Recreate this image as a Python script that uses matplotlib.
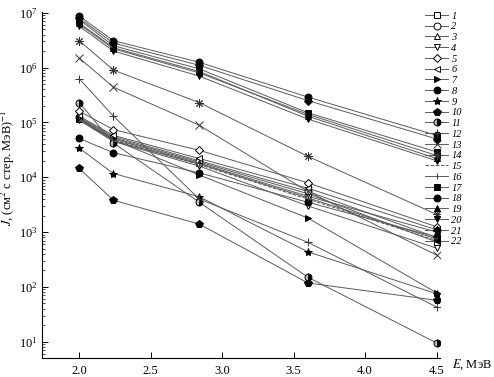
import matplotlib
matplotlib.use("Agg")
import matplotlib.pyplot as plt
from matplotlib.ticker import LogFormatterMathtext, NullFormatter, FixedLocator

plt.rcParams['font.family'] = ['Liberation Serif', 'DejaVu Serif']
plt.rcParams['mathtext.fontset'] = 'stix'

energy = [2.0, 2.24, 2.84, 3.6, 4.5]

j01 = [1.2e5, 5.2e4, 1.9e4, 5.0e3, 660]
j02 = [1.25e5, 5.5e4, 2.0e4, 5.5e3, 800]
j03 = [1.15e5, 5.0e4, 1.8e4, 4.5e3, 1.0e3]
j04 = [1.1e5, 4.5e4, 1.6e4, 3.0e3, 510]
j05 = [1.6e5, 7.4e4, 3.1e4, 7.9e3, 1.25e3]
j06 = [1.3e5, 5.8e4, 2.2e4, 6.3e3, 1.1e3]
j07 = [1.2e5, 4.8e4, 1.1e4, 1.8e3, 78]
j08 = [5.1e4, 2.8e4, 1.2e4, 3.5e3, 810]
j09 = [3.4e4, 1.17e4, 4.4e3, 436, 75]
j10 = [1.45e4, 3.8e3, 1.4e3, 118, 57]
j11 = [2.3e5, 4.2e4, 3.5e3, 150, 9.5]
j12 = [6.3e5, 1.3e5, 4.0e3, 650, 43]
j13 = [1.5e6, 4.4e5, 8.9e4, 5.5e3, 380]
j14 = [3.1e6, 9.0e5, 2.3e5, 2.4e4, 2.1e3]
j15 = [1.1e5, 4.8e4, 1.7e4, 4.0e3, 700]
j16 = [1.15e5, 4.6e4, 1.75e4, 4.2e3, 750]
j17 = [7.5e6, 2.5e6, 9.5e5, 1.5e5, 2.9e4]
j18 = [8.7e6, 3.1e6, 1.25e6, 2.9e5, 5.8e4]
j19 = [6.5e6, 2.3e6, 8.5e5, 1.3e5, 2.2e4]
j20 = [5.7e6, 2.0e6, 7.0e5, 1.15e5, 2.0e4]
j21 = [8.0e6, 2.8e6, 1.1e6, 2.5e5, 5.0e4]
j22 = [6.2e6, 2.2e6, 8.0e5, 1.4e5, 2.5e4]

series = [j01, j02, j03, j04, j05, j06, j07, j08, j09, j10, j11,
          j12, j13, j14, j15, j16, j17, j18, j19, j20, j21, j22]
labels = [str(i) for i in range(1, 23)]
x_ticks = [2.0, 2.5, 3.0, 3.5, 4.0, 4.5]
x_ticklabels = ['2.0', '2.5', '3.0', '3.5', '4.0', '4.5']
y_ticks = [1e1, 1e2, 1e3, 1e4, 1e5, 1e6, 1e7]

# (marker, filled, size, linestyle)
styles = [
    ('s', 'open', 4.5, '-'), ('o', 'open', 5, '-'), ('^', 'open', 5, '-'),
    ('v', 'open', 5, '-'), ('D', 'open', 4.5, '-'), ('<', 'open', 5, '-'),
    ('>', 'full', 5, '-'), ('o', 'full', 5, '-'), ('*', 'full', 6, '-'),
    ('p', 'full', 5.5, '-'), ('o', 'half', 5, '-'), ('+', 'line', 6, '-'),
    ('x', 'line', 6, '-'), ((8, 2, 0), 'line', 6, '-'), ('None', 'line', 5, '--'),
    ('|', 'line', 5, '-'), ('s', 'full', 4.5, '-'), ('o', 'full', 5, '-'),
    ('^', 'full', 5, '-'), ('v', 'full', 5, '-'), ('D', 'full', 4.5, '-'),
    ('<', 'full', 5, '-'),
]

fig = plt.figure(figsize=(4.94, 3.77), dpi=100)
ax = fig.add_axes([0.085, 0.0504, 0.806, 0.9176])

lc = '#5a5a5a'
handles = []
for vals, lab, (m, fill, ms, ls) in zip(series, labels, styles):
    kw = dict(color=lc, lw=0.7, ls=ls, marker=m, markersize=ms,
              markeredgecolor='black', markeredgewidth=0.7)
    if fill == 'open':
        kw.update(markerfacecolor='white')
    elif fill == 'full':
        kw.update(markerfacecolor='black')
    elif fill == 'half':
        kw.update(markerfacecolor='black', fillstyle='right', markerfacecoloralt='#bbbbbb')
    else:
        kw.update(markeredgecolor='#333333')
    h, = ax.plot(energy, vals, label=lab, **kw)
    handles.append(h)

ax.set_yscale('log')
ax.set_xlim(1.74, 4.525)
ax.set_ylim(5.05, 1.03e7)
ax.xaxis.set_major_locator(FixedLocator(x_ticks))
ax.set_xticklabels(x_ticklabels)
ax.yaxis.set_major_locator(FixedLocator(y_ticks))
ax.yaxis.set_major_formatter(LogFormatterMathtext())
minor = [m * 10 ** e for e in range(0, 7) for m in range(2, 10) if 5.05 < m * 10 ** e < 1.03e7]
ax.yaxis.set_minor_locator(FixedLocator(minor))
ax.yaxis.set_minor_formatter(NullFormatter())
ax.tick_params(axis='both', which='major', direction='in', length=4, width=0.7,
               labelsize=9, pad=3)
ax.tick_params(axis='y', which='minor', direction='in', length=2, width=0.5)
ax.tick_params(axis='x', which='major', pad=5)
for s in ['top', 'right']:
    ax.spines[s].set_visible(False)
for s in ['left', 'bottom']:
    ax.spines[s].set_linewidth(0.8)

ax.set_ylabel(r'$J$, (см$^2$ с стер. МэВ)$^{-1}$', fontsize=9)
ax.yaxis.set_label_coords(-0.063, 0.55)
fig.text(0.915, 0.014, r'$E$, МэВ', fontsize=9, ha='left', va='bottom')

leg = fig.legend(handles=handles, labels=labels, loc='upper left',
                 bbox_to_anchor=(0.861, 0.97), frameon=False,
                 prop={'style': 'italic', 'size': 7.5, 'family': 'Liberation Serif'},
                 handlelength=2.2, handletextpad=0.3, labelspacing=0.14,
                 borderaxespad=0, borderpad=0)

fig.savefig('out.png', dpi=100)
